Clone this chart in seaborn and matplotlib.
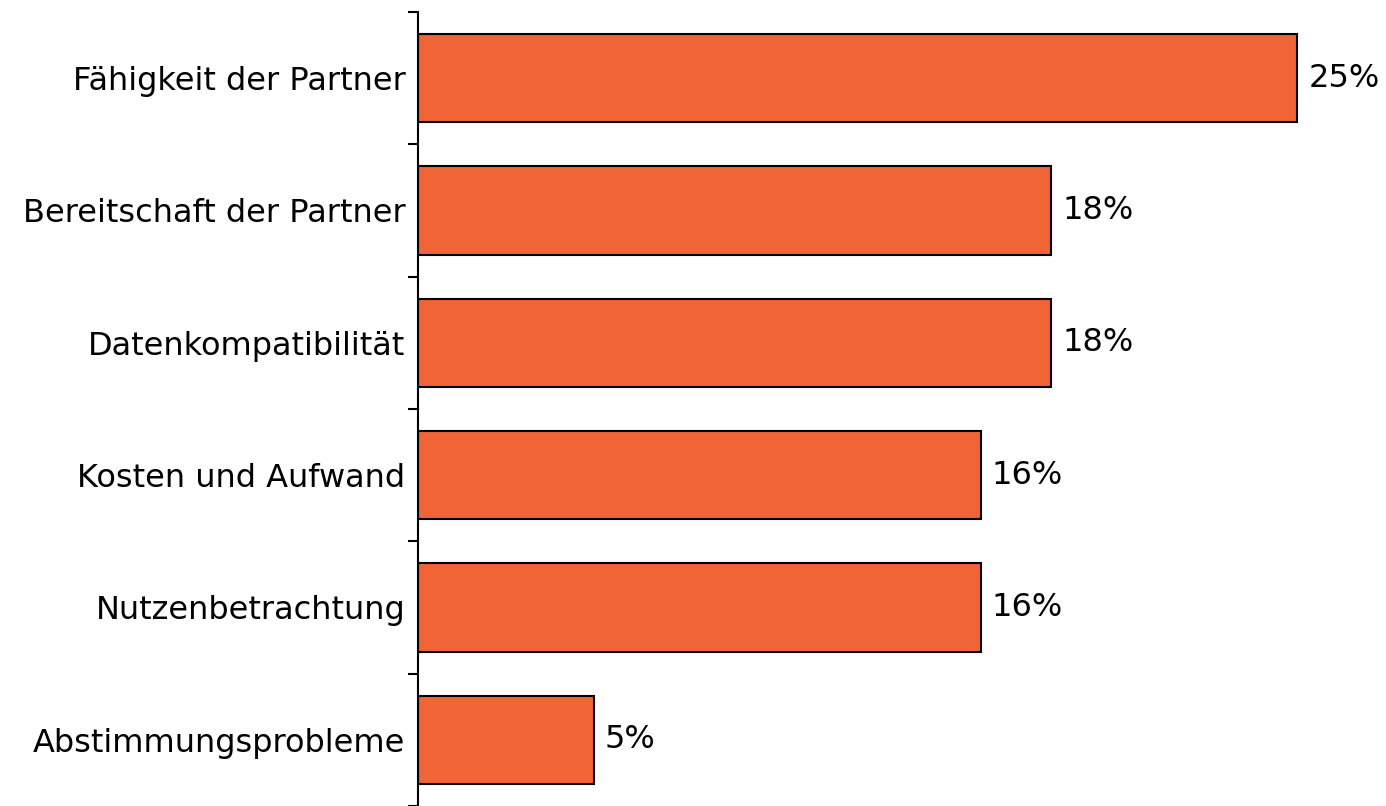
import matplotlib
matplotlib.use("Agg")
import matplotlib.pyplot as plt
import seaborn as sns
import pandas as pd

# Daten aus dem Diagramm
kategorien = ["Fähigkeit der Partner", "Bereitschaft der Partner", "Datenkompatibilität",
              "Kosten und Aufwand", "Nutzenbetrachtung", "Abstimmungsprobleme"]
werte = [25, 18, 18, 16, 16, 5]
beschriftungen = ["25%", "18%", "18%", "16%", "16%", "5%"]

df = pd.DataFrame({"kategorie": kategorien, "wert": werte})

sns.set_style("white")
plt.rcParams["font.family"] = ["DejaVu Sans"]

fig = plt.figure(figsize=(13.86, 8.06), dpi=100)
ax = fig.add_axes([418 / 1386, 0, 968 / 1386, 794 / 806])

sns.barplot(data=df, x="wert", y="kategorie", color="#F06436", saturation=1,
            edgecolor="black", linewidth=1.5, width=0.667, ax=ax)

ax.bar_label(ax.containers[0], labels=beschriftungen, padding=8, fontsize=23, color="black")

ax.set_xlim(0, 27.53)
ax.set_ylim(5.5, -0.5)
ax.set_xlabel("")
ax.set_ylabel("")
ax.set_xticks([])

# Striche zwischen den Kategorien, Beschriftung in der Mitte
ax.set_yticks([i - 0.5 for i in range(len(kategorien) + 1)])
ax.set_yticklabels([])
ax.set_yticks(range(len(kategorien)), minor=True)
ax.set_yticklabels(kategorien, minor=True, fontsize=23, color="black")
ax.tick_params(axis="y", which="major", direction="out", length=7, width=1.5, color="black", left=True)
ax.tick_params(axis="y", which="minor", length=0, pad=9)

for s in ["top", "right", "bottom"]:
    ax.spines[s].set_visible(False)
ax.spines["left"].set_color("black")
ax.spines["left"].set_linewidth(1.5)

fig.savefig("out.png", dpi=100)
